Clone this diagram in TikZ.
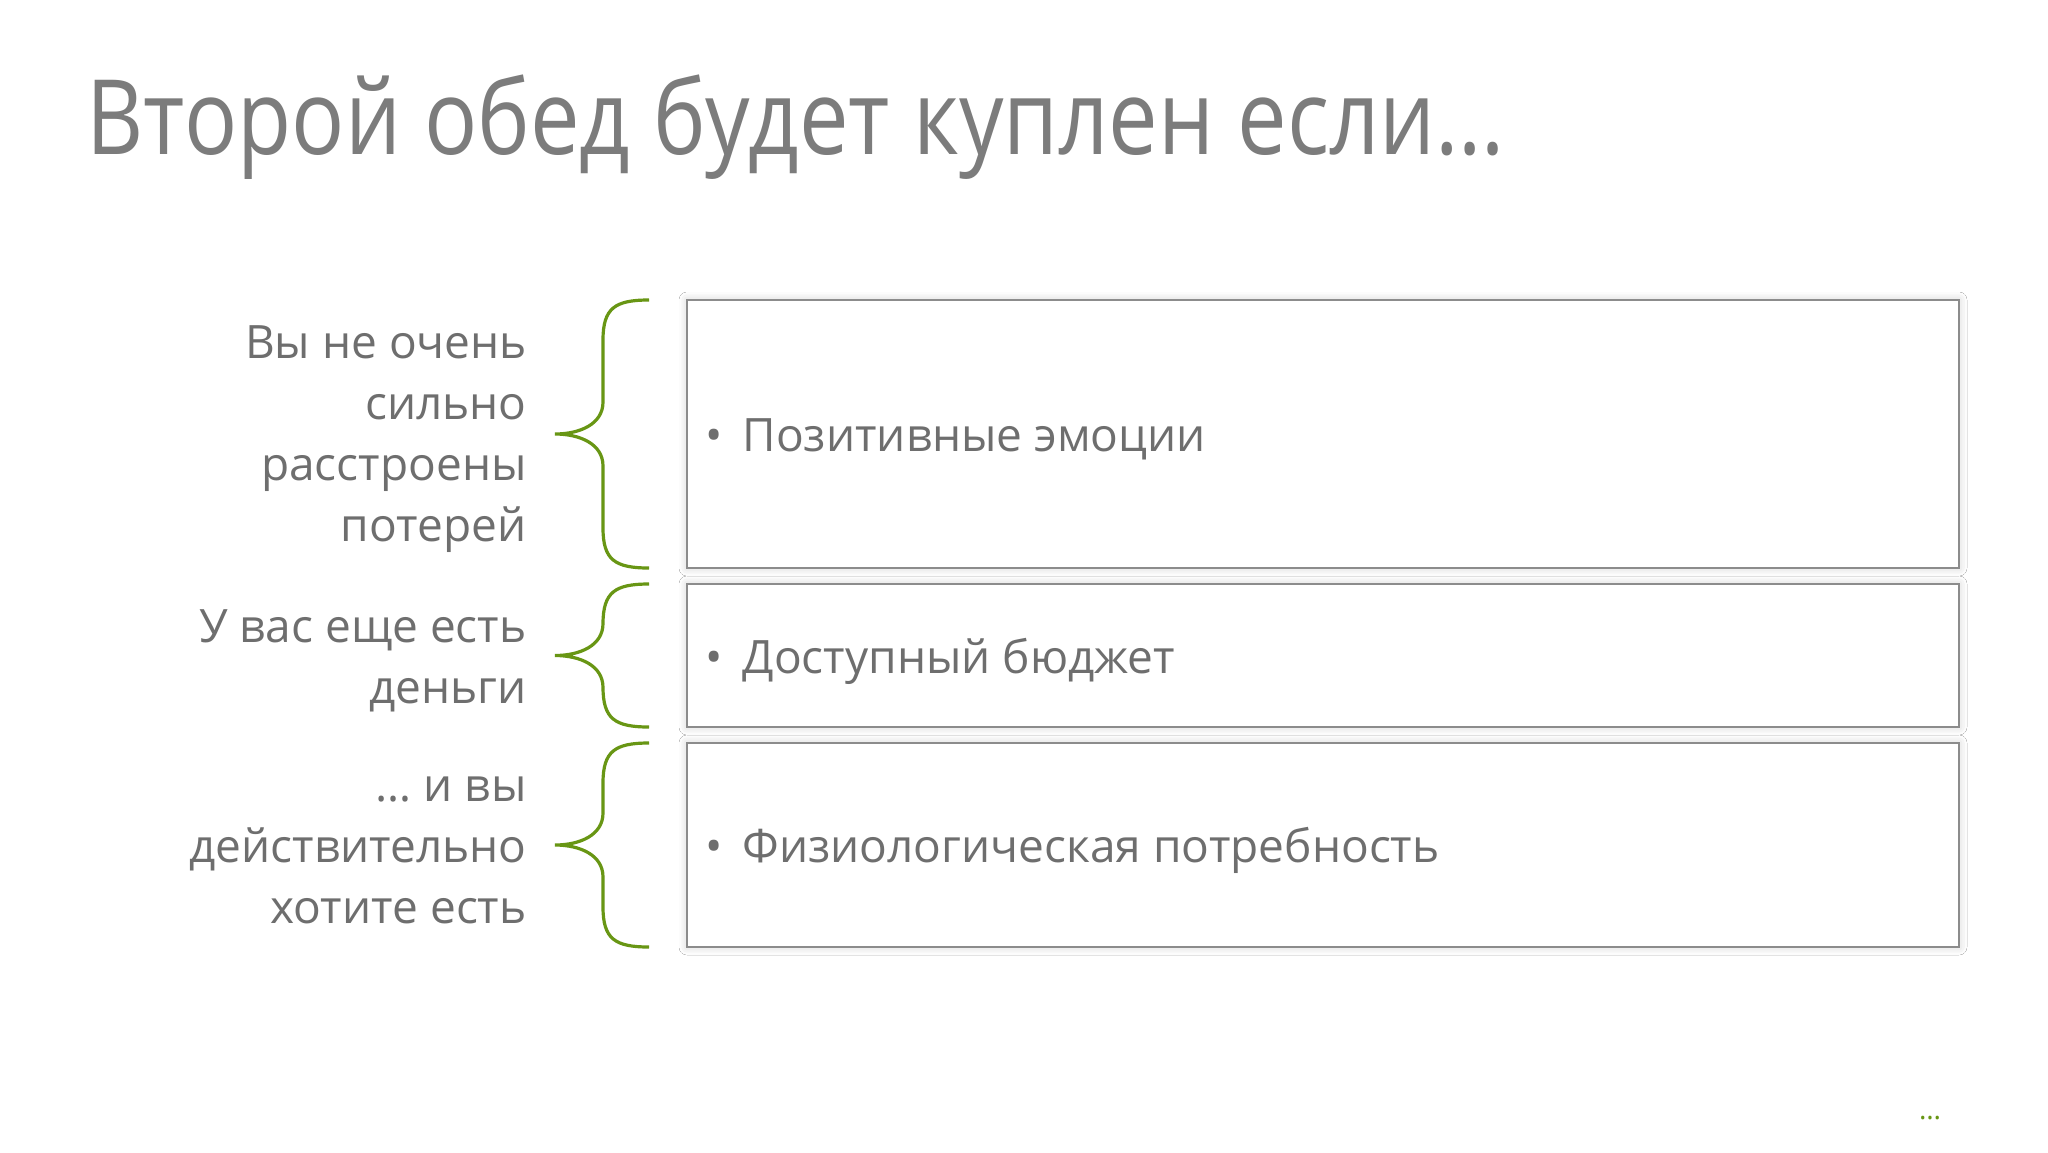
\documentclass[tikz,border=0pt]{standalone}
\usepackage{fontspec}
\usepackage{graphicx}
\setmainfont{Open Sans}
\usetikzlibrary{shadows.blur}
\definecolor{brgreen}{RGB}{104,150,20}
\definecolor{txt}{RGB}{110,110,110}
\begin{document}
\begin{tikzpicture}[x=0.5pt,y=-0.5pt,
  bx/.style={draw=black!45,line width=0.8pt,fill=white,blur shadow={shadow xshift=0pt,shadow yshift=0pt,shadow blur radius=4pt,shadow opacity=20}},
  lt/.style={anchor=east,align=right,text=txt,font=\fontsize{23}{30.5}\selectfont,inner sep=0pt},
  bt/.style={anchor=west,text=txt,font=\fontsize{23}{30}\selectfont,inner sep=0pt},
  br/.style={draw=brgreen,line width=1.6pt}]
\useasboundingbox (0,0) rectangle (2048,1152);
\fill[white] (0,0) rectangle (2048,1152);
\node[anchor=base west,text=txt!90,font=\fontsize{52}{56}\selectfont,inner sep=0pt] (title) at (86,154) {\scalebox{0.85}[1]{Второй обед будет куплен если…}};
\path[bx] (687,300) rectangle (1959,568);
\path[bx] (687,584) rectangle (1959,727);
\path[bx] (687,743) rectangle (1959,947);
\node[bt] (b1) at (705,439) {•\hspace{10pt}Позитивные эмоции};
\node[bt] (b2) at (705,661) {•\hspace{10pt}Доступный бюджет};
\node[bt] (b3) at (705,850) {•\hspace{10pt}Физиологическая потребность};
\foreach \t/\b in {300/568,584/727,743/947}{
 \pgfmathsetmacro\m{(\t+\b)/2}
 \draw[br] (649,\t) .. controls (615,\t) and (603,\t+8) .. (603,\t+40) -- (603,\m-32) .. controls (603,\m-10) and (580,\m) .. (555,\m)
   .. controls (580,\m) and (603,\m+10) .. (603,\m+32) -- (603,\b-40) .. controls (603,\b-8) and (615,\b) .. (649,\b);
}
\node[lt] (l1) at (527,439) {Вы не очень\\сильно\\расстроены\\потерей};
\node[lt] (l2) at (527,661) {У вас еще есть\\деньги};
\node[lt] (l3) at (527,850) {… и вы\\действительно\\хотите есть};
\node[text=brgreen,font=\fontsize{14}{14}\selectfont] (dots) at (1930,1118) {…};
\end{tikzpicture}
\end{document}
